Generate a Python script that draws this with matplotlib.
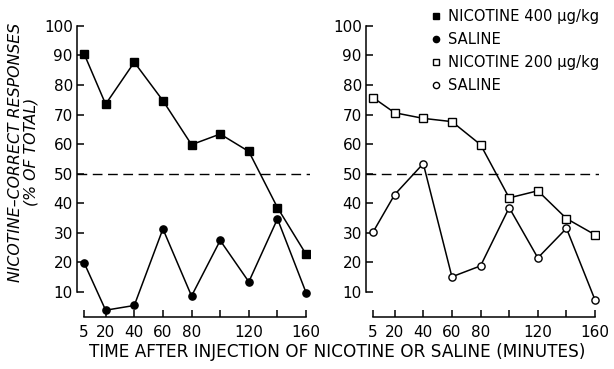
import matplotlib
matplotlib.use("Agg")
import matplotlib.pyplot as plt
from matplotlib.lines import Line2D

times = [5, 20, 40, 60, 80, 100, 120, 140, 160]
xtick_labels = ["5", "20", "40", "60", "80", "", "120", "", "160"]
yticks = [10, 20, 30, 40, 50, 60, 70, 80, 90, 100]
ytick_labels = ["10", "20", "30", "40", "50", "60", "70", "80", "90", "100"]

nic400 = [90.5, 73.5, 87.7, 74.7, 59.8, 63.4, 57.5, 38.5, 22.7]
saline_left = [19.8, 3.8, 5.4, 31.3, 8.6, 27.4, 13.4, 34.7, 9.7]
nic200 = [75.7, 70.6, 68.7, 67.6, 59.8, 41.8, 44.2, 34.8, 29.3]
saline_right = [30.3, 42.9, 53.4, 15.1, 18.8, 38.5, 21.5, 31.5, 7.2]

xlabel = "TIME AFTER INJECTION OF NICOTINE OR SALINE (MINUTES)"
ylabel = "NICOTINE\u2013CORRECT RESPONSES\n(% OF TOTAL)"
legend_labels = ["NICOTINE 400 \u00b5g/kg", "SALINE", "NICOTINE 200 \u00b5g/kg", "SALINE"]

plt.rcParams['font.family'] = ['DejaVu Sans']
W, H = 614, 369
fig = plt.figure(figsize=(W / 100, H / 100), dpi=100)

ax_bottom = (H - 317) / H
ax_height = 294.1 / H
ax1 = fig.add_axes([77 / W, ax_bottom, 233.4 / W, ax_height])
ax2 = fig.add_axes([366 / W, ax_bottom, 233.4 / W, ax_height])

lw = 1.1
ms = 5.2
ax1.plot(times, nic400, color='black', lw=lw, marker='s', ms=ms,
         mfc='black', mec='black', zorder=3)
ax1.plot(times, saline_left, color='black', lw=lw, marker='o', ms=ms,
         mfc='black', mec='black', zorder=3)
ax2.plot(times, nic200, color='black', lw=lw, marker='s', ms=ms,
         mfc='white', mec='black', mew=1.0, zorder=3)
ax2.plot(times, saline_right, color='black', lw=lw, marker='o', ms=ms,
         mfc='white', mec='black', mew=1.0, zorder=3)

for ax in (ax1, ax2):
    ax.axhline(50, color='black', lw=1.0, dashes=(7, 4), zorder=1)
    ax.set_xlim(0, 163)
    ax.set_ylim(1.5, 101)
    ax.set_xticks(times)
    ax.set_xticklabels(xtick_labels)
    ax.set_yticks(yticks)
    ax.set_yticklabels(ytick_labels)
    for s in ('top', 'right'):
        ax.spines[s].set_visible(False)
    ax.spines['left'].set_bounds(10, 100)
    ax.spines['bottom'].set_bounds(5, 160)
    ax.spines['left'].set_linewidth(1.1)
    ax.spines['bottom'].set_linewidth(1.1)
    ax.tick_params(axis='both', direction='in', length=5, width=1.1,
                   labelsize=11, pad=3)
    ax.tick_params(axis='x', pad=6)
    ax.patch.set_alpha(0)

fig.text(337 / W, (H - 352) / H, xlabel, ha='center', va='center', fontsize=12.2)
fig.text(23 / W, (H - 152) / H, ylabel, ha='center', va='center', rotation=90,
         fontsize=11.3, style='italic', linespacing=1.05)

handles = [
    Line2D([], [], ls='none', marker='s', ms=4.5, mfc='black', mec='black'),
    Line2D([], [], ls='none', marker='o', ms=4.5, mfc='black', mec='black'),
    Line2D([], [], ls='none', marker='s', ms=4.5, mfc='white', mec='black'),
    Line2D([], [], ls='none', marker='o', ms=4.5, mfc='white', mec='black'),
]
fig.legend(handles, legend_labels, loc='upper left', bbox_to_anchor=(424 / W, 1 - 3 / H),
           frameon=False, fontsize=10.6, handlelength=0.8, handletextpad=0.45,
           labelspacing=0.55, borderaxespad=0)

fig.savefig("out.png", dpi=100, facecolor='white')
